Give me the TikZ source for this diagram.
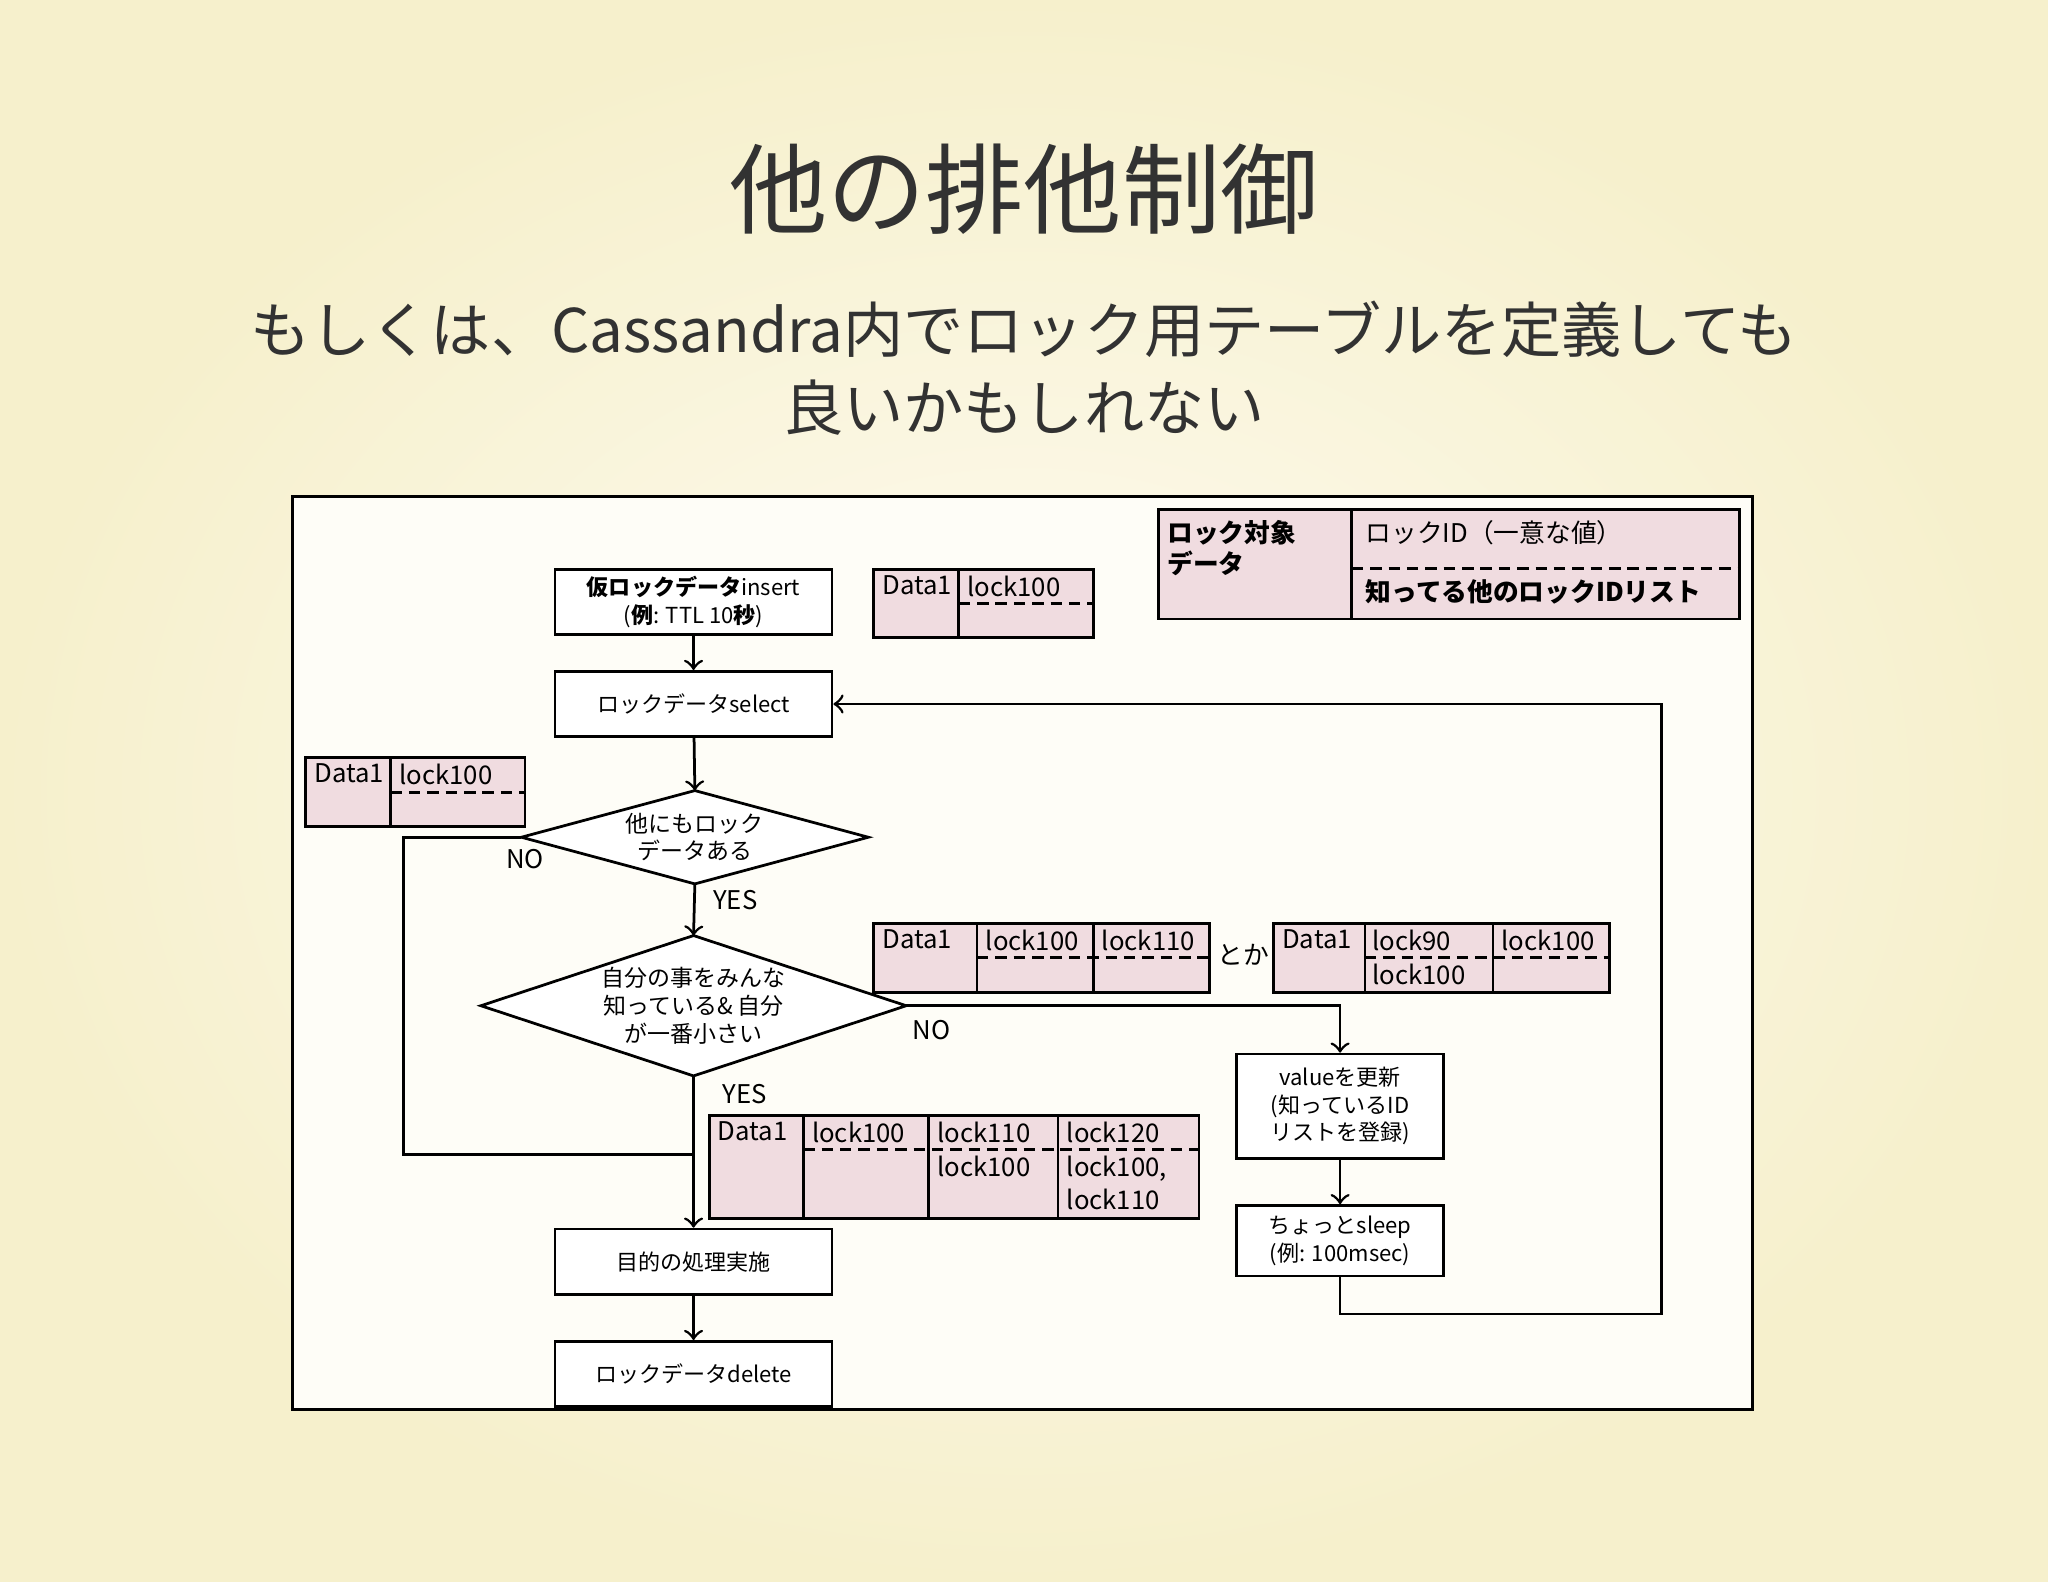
\documentclass[tikz,border=0pt]{standalone}
\usepackage{fontspec}
\setmainfont{Noto Sans CJK JP}
\definecolor{pinkc}{RGB}{240,220,224}
\definecolor{bgout}{RGB}{246,240,204}
\definecolor{bgin}{RGB}{254,251,242}
\definecolor{ink}{RGB}{50,50,50}
\tikzset{
  box/.style={draw, fill=white, line width=0.6pt, minimum width=2.12cm, minimum height=0.5cm, align=center, font=\fontsize{4.8}{6}\selectfont, inner sep=1pt},
  dia/.style={rectangle, inner sep=0pt, align=center, font=\fontsize{5}{6}\selectfont},
  diaoutline/.style={draw, fill=white, line width=0.6pt},
  arr/.style={->, line width=0.6pt},
  ln/.style={line width=0.6pt},
  dsh/.style={line width=0.6pt, dash pattern=on 2.5pt off 1.5pt},
  tbl/.style={fill=pinkc, draw, line width=0.6pt},
  tt/.style={font=\fontsize{5.6}{6.6}\selectfont, anchor=north west, inner sep=0pt},
  lbl/.style={font=\fontsize{5.6}{6}\selectfont, inner sep=0pt},
}
\begin{document}
\begin{tikzpicture}[x=0.01cm, y=-0.01cm]
\useasboundingbox (0,0) rectangle (1568,1211);
\shade[inner color=bgin, outer color=bgout] (0,0) rectangle (1568,1211);

\node[text=ink, font=\fontsize{21.4}{24}\selectfont] (title) at (784,145) {他の排他制御};
\node[text=ink, font=\fontsize{13.1}{17}\selectfont, align=center] (sub) at (784,282)
  {もしくは、Cassandra内でロック用テーブルを定義しても\\良いかもしれない};

\draw[ln, fill=bgin!60!white] (224,380) rectangle (1342,1079);

% legend
\draw[tbl] (887,390) rectangle (1332,474);
\draw[ln] (1035,390) -- (1035,474);
\draw[dsh] (1035,435) -- (1332,435);
\node[tt, align=left] at (893,398) {\textbf{ロック対象}\\\textbf{データ}};
\node[tt] at (1045,398) {ロックID（一意な値）};
\node[tt] at (1045,443) {\textbf{知ってる他のロックIDリスト}};

% flow nodes
\node[box] (ins) at (531,461) {\textbf{仮ロックデータ}insert\\(\textbf{例}: TTL 10\textbf{秒})};
\node[box] (sel) at (531,539) {ロックデータselect};
\node[dia, minimum width=2.64cm, minimum height=0.70cm] (d1) at (532,641) {};
\draw[diaoutline] (d1.north) -- (d1.east) -- (d1.south) -- (d1.west) -- cycle;
\node[font=\fontsize{5}{6}\selectfont, align=center] at (d1) {他にもロック\\データある};
\node[dia, minimum width=3.24cm, minimum height=1.06cm] (d2) at (531,770) {};
\draw[diaoutline] (d2.north) -- (d2.east) -- (d2.south) -- (d2.west) -- cycle;
\node[font=\fontsize{5}{6}\selectfont, align=center] at (d2) {自分の事をみんな\\知っている\& 自分\\が一番小さい};
\node[box] (work) at (531,966) {目的の処理実施};
\node[box] (del) at (531,1052) {ロックデータdelete};
\node[box, minimum width=1.58cm, minimum height=0.8cm] (upd) at (1026,847) {valueを更新\\(知っているID\\リストを登録)};
\node[box, minimum width=1.58cm, minimum height=0.54cm] (slp) at (1026,950) {ちょっとsleep\\(例: 100msec)};

\coordinate (m1) at (531,884);
\draw[arr] (ins) -- (sel);
\draw[arr] (sel) -- (d1.north);
\draw[arr] (d1.south) -- (d2.north);
\draw[arr] (d2.south) -- (work);
\draw[arr] (work) -- (del);
\draw[ln] (d1.west) -| (309,884) -- (m1);
\draw[arr] (d2.east) -| (upd.north);
\draw[arr] (upd) -- (slp);
\draw[arr] (slp.south) |- (1272,1006) |- (sel.east);

\node[lbl] at (402,658) {NO};
\node[lbl] at (563,689) {YES};
\node[lbl] at (713,789) {NO};
\node[lbl] at (570,838) {YES};
\node[lbl] at (952,731) {とか};

% table A
\draw[tbl] (669,436) rectangle (837,488);
\draw[ln] (734,436) -- (734,488);
\draw[dsh] (734,462) -- (837,462);
\node[tt] at (675,440) {Data1};
\node[tt] at (740,440) {lock100};
% table B
\draw[tbl] (234,580) rectangle (402,633);
\draw[ln] (299,580) -- (299,633);
\draw[dsh] (299,607) -- (402,607);
\node[tt] at (240,584) {Data1};
\node[tt] at (305,584) {lock100};
% table C
\draw[tbl] (669,707) rectangle (926,760);
\foreach \x in {748,837} \draw[ln] (\x,707) -- (\x,760);
\draw[dsh] (748,733) -- (926,733);
\node[tt] at (675,711) {Data1};
\node[tt] at (754,711) {lock100};
\node[tt] at (843,711) {lock110};
% table D
\draw[tbl] (975,707) rectangle (1232,760);
\foreach \x in {1045,1143} \draw[ln] (\x,707) -- (\x,760);
\draw[dsh] (1045,733) -- (1232,733);
\node[tt] at (981,711) {Data1};
\node[tt] at (1050,711) {lock90};
\node[tt] at (1050,737) {lock100};
\node[tt] at (1149,711) {lock100};
% table E
\draw[tbl] (543,854) rectangle (918,933);
\foreach \x in {615,711,810} \draw[ln] (\x,854) -- (\x,933);
\draw[dsh] (615,880) -- (918,880);
\node[tt] at (549,858) {Data1};
\node[tt] at (621,858) {lock100};
\node[tt] at (717,858) {lock110};
\node[tt] at (717,884) {lock100};
\node[tt] at (816,858) {lock120};
\node[tt] at (816,884) {lock100,};
\node[tt] at (816,910) {lock110};
\end{tikzpicture}
\end{document}
